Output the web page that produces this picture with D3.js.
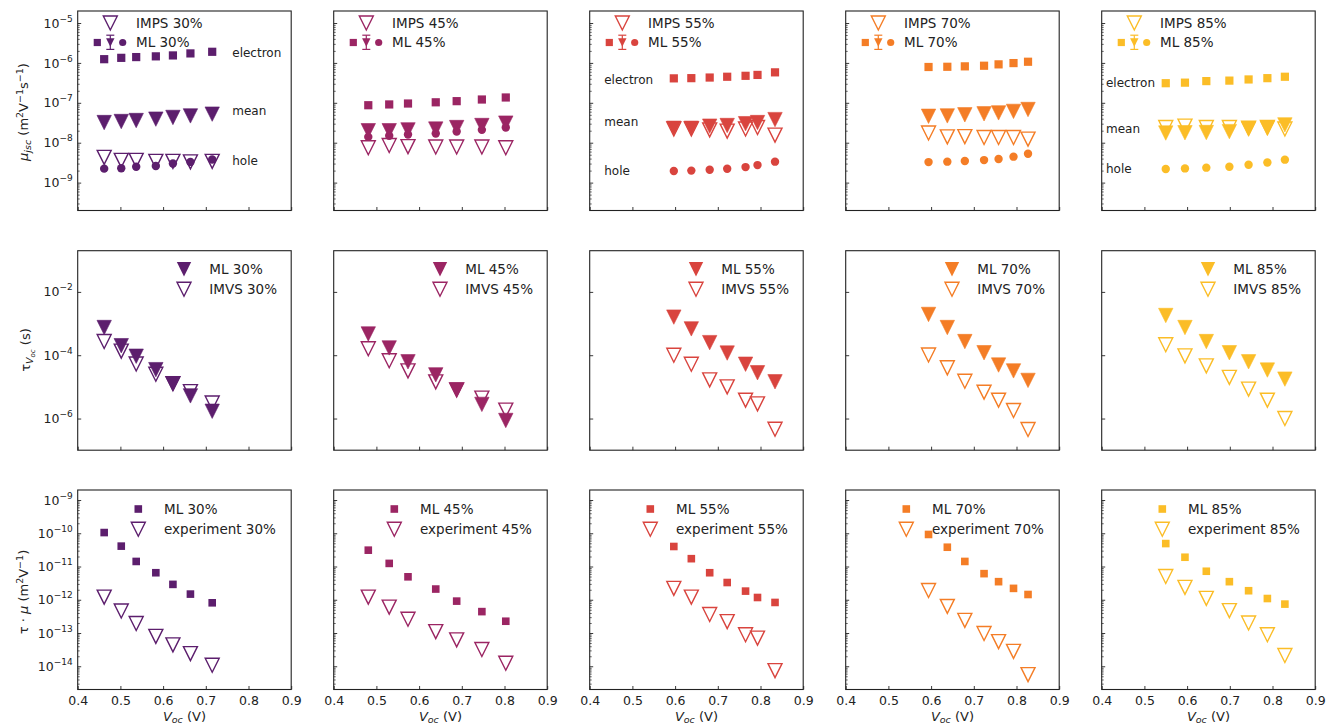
<!DOCTYPE html>
<html><head><meta charset="utf-8">
<script src="https://cdn.jsdelivr.net/npm/d3@7"></script>
<style>body{margin:0;background:#fff} svg{display:block;font-family:"DejaVu Sans",sans-serif}</style>
</head><body><svg id="c" width="1326" height="726"></svg>
<script>
// ---------------- data ----------------
const concentrations = ["30%", "45%", "55%", "70%", "85%"];
const colors = ["#5c1e6d", "#9b2563", "#d9443e", "#f47d26", "#fbbd27"];
const voc = [
  [0.462, 0.502, 0.537, 0.583, 0.623, 0.664, 0.715],
  [0.481, 0.530, 0.574, 0.639, 0.688, 0.747, 0.803],
  [0.597, 0.638, 0.681, 0.722, 0.765, 0.793, 0.834],
  [0.594, 0.638, 0.679, 0.724, 0.758, 0.793, 0.827],
  [0.550, 0.595, 0.645, 0.699, 0.744, 0.788, 0.829]
];
const muElectron = [
  [1.24e-6, 1.34e-6, 1.40e-6, 1.46e-6, 1.54e-6, 1.73e-6, 1.90e-6],
  [8.7e-8, 9.1e-8, 9.6e-8, 1.03e-7, 1.1e-7, 1.21e-7, 1.36e-7],
  [4.1e-7, 4.15e-7, 4.3e-7, 4.5e-7, 4.75e-7, 5.0e-7, 5.8e-7],
  [7.9e-7, 8.0e-7, 8.2e-7, 8.5e-7, 9.2e-7, 9.9e-7, 1.07e-6],
  [3.1e-7, 3.2e-7, 3.5e-7, 3.6e-7, 3.85e-7, 4.15e-7, 4.5e-7]
];
const muMean = [
  [3.2e-8, 3.4e-8, 3.6e-8, 3.9e-8, 4.3e-8, 4.7e-8, 5.2e-8],
  [2.0e-8, 2.0e-8, 2.1e-8, 2.2e-8, 2.4e-8, 2.7e-8, 3.1e-8],
  [2.3e-8, 2.3e-8, 2.6e-8, 2.7e-8, 3.0e-8, 3.2e-8, 3.8e-8],
  [4.6e-8, 4.7e-8, 5.0e-8, 5.3e-8, 5.6e-8, 6.1e-8, 6.8e-8],
  [1.75e-8, 1.78e-8, 1.8e-8, 1.9e-8, 2.2e-8, 2.3e-8, 2.8e-8]
];
const muHole = [
  [2.24e-9, 2.3e-9, 2.5e-9, 2.6e-9, 3.0e-9, 3.3e-9, 3.8e-9],
  [1.4e-8, 1.5e-8, 1.6e-8, 1.7e-8, 1.9e-8, 2.1e-8, 2.4e-8],
  [1.95e-9, 2.0e-9, 2.1e-9, 2.23e-9, 2.45e-9, 2.75e-9, 3.35e-9],
  [3.27e-9, 3.35e-9, 3.47e-9, 3.67e-9, 3.9e-9, 4.47e-9, 5.3e-9],
  [2.19e-9, 2.27e-9, 2.37e-9, 2.5e-9, 2.8e-9, 3.2e-9, 3.76e-9]
];
const muIMPS = [
  [4.3e-9, 3.6e-9, 3.6e-9, 3.4e-9, 3.4e-9, 3.3e-9, 3.4e-9],
  [7.5e-9, 8.5e-9, 8.0e-9, 7.8e-9, 7.8e-9, 7.8e-9, 7.5e-9],
  [2.2e-8, 2.2e-8, 2.1e-8, 1.95e-8, 2.2e-8, 2.4e-8, 1.55e-8],
  [1.75e-8, 1.4e-8, 1.42e-8, 1.35e-8, 1.35e-8, 1.35e-8, 1.23e-8],
  [2.4e-8, 2.6e-8, 2.4e-8, 2.4e-8, 2.3e-8, 2.4e-8, 2.2e-8]
];
const tauML = [
  [7.5e-4, 2.0e-4, 9.3e-5, 3.5e-5, 1.26e-5, 5.2e-6, 1.7e-6],
  [4.7e-4, 1.7e-4, 6.2e-5, 2.4e-5, 8.0e-6, 2.8e-6, 8.7e-7],
  [1.6e-3, 6.8e-4, 2.5e-4, 1.17e-4, 5.2e-5, 2.8e-5, 1.45e-5],
  [1.94e-3, 7.5e-4, 2.7e-4, 1.2e-4, 4.9e-5, 3.2e-5, 1.6e-5],
  [1.8e-3, 7.5e-4, 2.7e-4, 1.2e-4, 6.2e-5, 3.4e-5, 1.76e-5]
];
const tauIMVS = [
  [2.7e-4, 1.35e-4, 5.3e-5, 2.5e-5, 1.26e-5, 7.1e-6, 3.1e-6],
  [1.6e-4, 6.7e-5, 3.2e-5, 1.44e-5, 8.0e-6, 4.4e-6, 1.85e-6],
  [1.0e-4, 5.2e-5, 1.66e-5, 1.0e-5, 3.8e-6, 2.9e-6, 4.6e-7],
  [1.02e-4, 4.0e-5, 1.5e-5, 6.8e-6, 3.8e-6, 1.8e-6, 4.5e-7],
  [2.15e-4, 9.5e-5, 4.6e-5, 2.0e-5, 8.5e-6, 3.8e-6, 1.0e-6]
];
const tauMuML = [
  [1.05e-10, 4.1e-11, 1.42e-11, 6.5e-12, 2.9e-12, 1.48e-12, 8.1e-13],
  [3.1e-11, 1.24e-11, 4.9e-12, 2.1e-12, 9.1e-13, 4.4e-13, 2.26e-13],
  [4.0e-11, 1.72e-11, 6.5e-12, 3.3e-12, 1.82e-12, 1.17e-12, 8.3e-13],
  [9.2e-11, 3.8e-11, 1.42e-11, 6.1e-12, 3.5e-12, 2.2e-12, 1.44e-12],
  [4.9e-11, 1.9e-11, 7.2e-12, 3.5e-12, 1.87e-12, 1.09e-12, 7.4e-13]
];
const tauMuExp = [
  [1.2e-12, 4.6e-13, 1.94e-13, 7.9e-14, 4.4e-14, 2.4e-14, 1.07e-14],
  [1.2e-12, 6.0e-13, 2.6e-13, 1.1e-13, 6.2e-14, 3.2e-14, 1.23e-14],
  [2.2e-12, 1.2e-12, 3.6e-13, 2.2e-13, 8.9e-14, 7.0e-14, 7.4e-15],
  [1.9e-12, 6.3e-13, 2.4e-13, 9.7e-14, 5.5e-14, 2.8e-14, 5.6e-15],
  [5.0e-12, 2.35e-12, 1.1e-12, 4.7e-13, 2.0e-13, 8.9e-14, 2.1e-14]
];
const xTicks = [0.4, 0.5, 0.6, 0.7, 0.8, 0.9];
const yTicksMu = [1e-9, 1e-8, 1e-7, 1e-6, 1e-5];
const yTicksTau = [1e-6, 1e-4, 1e-2];
const yTicksTauMu = [1e-14, 1e-13, 1e-12, 1e-11, 1e-10, 1e-9];
const carrierLabels = [
  {col: 0, text: "electron", v: 0.762, y: 1.8e-6},
  {col: 0, text: "mean", v: 0.762, y: 6.3e-8},
  {col: 0, text: "hole", v: 0.762, y: 3.6e-9},
  {col: 2, text: "electron", v: 0.434, y: 3.7e-7},
  {col: 2, text: "mean", v: 0.434, y: 3.4e-8},
  {col: 2, text: "hole", v: 0.434, y: 2.0e-9},
  {col: 4, text: "electron", v: 0.410, y: 3.1e-7},
  {col: 4, text: "mean", v: 0.410, y: 2.2e-8},
  {col: 4, text: "hole", v: 0.410, y: 2.2e-9}
];

// ---------------- layout ----------------
const svg = d3.select("#c");
const left0 = 77.7, colStep = 256, pw = 213.5;
const rowTops = [11, 250.7, 490], ph = 199.5;
const rows = [
  {domain: [2e-10, 2e-5], ticks: yTicksMu, minor: true},
  {domain: [1e-7, 0.2], ticks: yTicksTau, minor: false},
  {domain: [2e-15, 2e-9], ticks: yTicksTauMu, minor: true}
];
const FONT = "DejaVu Sans";

function tri(r) { return `M${-r},${-r}L${r},${-r}L0,${r}Z`; }
function rich(sel, parts) {
  let prev = 0;
  parts.forEach(p => {
    const sh = p.shift || 0;
    const t = sel.append("tspan").text(p.t).attr("dy", -(sh - prev));
    if (p.size) t.attr("font-size", p.size);
    if (p.italic) t.attr("font-style", "italic");
    prev = sh;
  });
}
function minorTicks(lo, hi) {
  const out = [];
  for (let e = Math.floor(Math.log10(lo)); e <= Math.ceil(Math.log10(hi)); e++)
    for (let m = 2; m <= 9; m++) { const v = m * Math.pow(10, e); if (v > lo && v < hi) out.push(v); }
  return out;
}

rows.forEach((row, ri) => {
  concentrations.forEach((conc, ci) => {
    const x0 = left0 + ci * colStep, y0 = rowTops[ri];
    const x = d3.scaleLinear().domain([0.4, 0.9]).range([x0, x0 + pw]);
    const y = d3.scaleLog().domain(row.domain).range([y0 + ph, y0]);
    const g = svg.append("g");
    const col = colors[ci];
    // x axis
    const xa = g.append("g").attr("transform", `translate(0,${y0 + ph})`)
      .call(d3.axisBottom(x).tickValues(xTicks).tickSizeInner(-3.5).tickSizeOuter(0).tickPadding(6.5)
        .tickFormat(ri === 2 ? d3.format(".1f") : () => ""));
    xa.select(".domain").remove();
    xa.selectAll("line").attr("stroke", "#222").attr("stroke-width", 0.9);
    xa.selectAll("text").attr("font-size", 12.5).attr("font-family", FONT).attr("fill", "#222");
    // y axis
    const ya = g.append("g").attr("transform", `translate(${x0},0)`)
      .call(d3.axisLeft(y).tickValues(row.ticks).tickSizeInner(-3.5).tickSizeOuter(0).tickFormat(() => ""));
    ya.select(".domain").remove();
    ya.selectAll("line").attr("stroke", "#222").attr("stroke-width", 0.9);
    if (row.minor) {
      const ym = g.append("g").attr("transform", `translate(${x0},0)`)
        .call(d3.axisLeft(y).tickValues(minorTicks(row.domain[0], row.domain[1])).tickSizeInner(-2).tickSizeOuter(0).tickFormat(() => ""));
      ym.select(".domain").remove();
      ym.selectAll("line").attr("stroke", "#222").attr("stroke-width", 0.7);
    }
    if (ci === 0) {
      row.ticks.forEach(v => {
        const t = g.append("text").attr("x", x0 - 5).attr("y", y(v) + 4.6)
          .attr("text-anchor", "end").attr("font-size", 12.5).attr("fill", "#222");
        rich(t, [{t: "10"}, {t: "−" + Math.round(-Math.log10(v)), size: 9, shift: 6}]);
      });
    }
    // frame
    g.append("rect").attr("x", x0).attr("y", y0).attr("width", pw).attr("height", ph)
      .attr("fill", "none").attr("stroke", "#222").attr("stroke-width", 1.1);

    const pts = voc[ci];
    const openTri = (vals, layer) => layer.selectAll(null).data(vals).join("path")
      .attr("d", tri(7)).attr("transform", (d, i) => `translate(${x(pts[i])},${y(d)})`)
      .attr("fill", "none").attr("stroke", col).attr("stroke-width", 1.4);
    const fillTri = (vals, layer) => layer.selectAll(null).data(vals).join("path")
      .attr("d", tri(7.2)).attr("transform", (d, i) => `translate(${x(pts[i])},${y(d)})`)
      .attr("fill", col).attr("stroke", col).attr("stroke-width", 0.6);
    const squares = (vals, layer, s) => layer.selectAll(null).data(vals).join("rect")
      .attr("x", (d, i) => x(pts[i]) - s / 2).attr("y", d => y(d) - s / 2)
      .attr("width", s).attr("height", s).attr("fill", col);
    const lx = v => x0 + v;  // legend offsets relative to panel
    const ly = v => y0 + v;
    const legText = (tx, ty, s) => g.append("text").attr("x", lx(tx)).attr("y", ly(ty) + 4.8)
      .attr("font-size", 13.5).attr("fill", "#222").text(s);

    if (ri === 0) {
      openTri(muIMPS[ci], g.append("g"));
      g.append("g").selectAll(null).data(muHole[ci]).join("circle")
        .attr("cx", (d, i) => x(pts[i])).attr("cy", d => y(d)).attr("r", 4.2).attr("fill", col);
      fillTri(muMean[ci], g.append("g"));
      squares(muElectron[ci], g.append("g"), 8.2);
      // legend
      g.append("path").attr("d", tri(7)).attr("transform", `translate(${lx(32.6)},${ly(12)})`)
        .attr("fill", "none").attr("stroke", col).attr("stroke-width", 1.4);
      legText(58.3, 12, "IMPS " + conc);
      g.append("rect").attr("x", lx(19.6) - 3.6).attr("y", ly(31.5) - 3.6).attr("width", 7.2).attr("height", 7.2).attr("fill", col);
      g.append("line").attr("x1", lx(32.6)).attr("x2", lx(32.6)).attr("y1", ly(24.2)).attr("y2", ly(38.4)).attr("stroke", col).attr("stroke-width", 1.2);
      [24.2, 38.4].forEach(yy => g.append("line").attr("x1", lx(28.6)).attr("x2", lx(36.6)).attr("y1", ly(yy)).attr("y2", ly(yy)).attr("stroke", col).attr("stroke-width", 1.2));
      g.append("path").attr("d", tri(4.2)).attr("transform", `translate(${lx(32.6)},${ly(31.5)})`).attr("fill", col);
      g.append("circle").attr("cx", lx(45)).attr("cy", ly(31.5)).attr("r", 3.6).attr("fill", col);
      legText(58.3, 31.5, "ML " + conc);
      carrierLabels.filter(a => a.col === ci).forEach(a => {
        g.append("text").attr("x", x(a.v)).attr("y", y(a.y)).attr("dy", "0.35em")
          .attr("font-size", 12).attr("fill", "#222").text(a.text);
      });
    } else if (ri === 1) {
      openTri(tauIMVS[ci], g.append("g"));
      fillTri(tauML[ci], g.append("g"));
      g.append("path").attr("d", tri(7.2)).attr("transform", `translate(${lx(106.3)},${ly(18.6)})`).attr("fill", col);
      legText(131.6, 18.6, "ML " + conc);
      g.append("path").attr("d", tri(7)).attr("transform", `translate(${lx(106.3)},${ly(38.6)})`)
        .attr("fill", "none").attr("stroke", col).attr("stroke-width", 1.4);
      legText(131.6, 38.6, "IMVS " + conc);
    } else {
      squares(tauMuML[ci], g.append("g"), 7.6);
      openTri(tauMuExp[ci], g.append("g"));
      g.append("rect").attr("x", lx(60.6) - 3.8).attr("y", ly(19) - 3.8).attr("width", 7.6).attr("height", 7.6).attr("fill", col);
      legText(86.3, 19, "ML " + conc);
      g.append("path").attr("d", tri(7)).attr("transform", `translate(${lx(60.6)},${ly(39.3)})`)
        .attr("fill", "none").attr("stroke", col).attr("stroke-width", 1.4);
      legText(86.3, 39.3, "experiment " + conc);
      // x label
      const t = g.append("text").attr("x", x(0.65)).attr("y", 720.5).attr("text-anchor", "middle")
        .attr("font-size", 13).attr("fill", "#222");
      rich(t, [{t: "V", italic: true}, {t: "oc", italic: true, size: 9.5, shift: -2.5}, {t: " (V)"}]);
    }
  });
});

// y axis labels
function yLabel(cx, cy, parts) {
  const t = svg.append("text").attr("transform", `translate(${cx},${cy}) rotate(-90)`)
    .attr("text-anchor", "middle").attr("font-size", 13).attr("fill", "#222");
  rich(t, parts);
}
yLabel(28, 112, [{t: "μ", italic: true}, {t: "jsc", italic: true, size: 9.5, shift: -3},
  {t: " (m"}, {t: "2", size: 9.5, shift: 5}, {t: "V"}, {t: "−1", size: 9.5, shift: 5},
  {t: "s"}, {t: "−1", size: 9.5, shift: 5}, {t: ")"}]);
yLabel(30, 350, [{t: "τ"}, {t: "V", italic: true, size: 9.5, shift: -3}, {t: "oc", italic: true, size: 7, shift: -5},
  {t: " (s)"}]);
yLabel(28, 592, [{t: "τ · "}, {t: "μ", italic: true}, {t: " (m"}, {t: "2", size: 9.5, shift: 5},
  {t: "V"}, {t: "−1", size: 9.5, shift: 5}, {t: ")"}]);
</script>
</body></html>
